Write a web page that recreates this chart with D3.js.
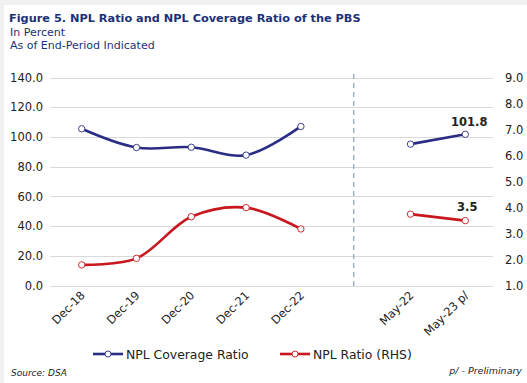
<!DOCTYPE html>
<html><head><meta charset="utf-8">
<script src="https://cdn.jsdelivr.net/npm/d3@7"></script>
<style>body{margin:0;background:#fff}svg{display:block}</style>
</head><body>
<svg id="c" width="527" height="383"></svg>
<script>
const categories = ["Dec-18","Dec-19","Dec-20","Dec-21","Dec-22","","May-22","May-23 p/"];
const coverage = [105.5, 92.9, 93.1, 87.8, 107.1, null, 95.2, 101.8];
const nplRatio = [1.8, 2.05, 3.65, 4.0, 3.18, null, 3.75, 3.5];
const leftTicks = [0,20,40,60,80,100,120,140];
const rightTicks = [1,2,3,4,5,6,7,8,9];

const svg = d3.select("#c");
const font = "'DejaVu Sans', sans-serif";
const navy = "#2a2d83", red = "#c8171e", titleCol = "#1c3278";

svg.append("rect").attr("width",527).attr("height",383).attr("fill","#f1f1f1");
svg.append("rect").attr("x",4).attr("y",5).attr("width",523).attr("height",378).attr("fill","#fff");

svg.append("text").attr("x",9).attr("y",22).attr("font-family",font).attr("font-weight","bold")
  .attr("font-size",11.3).attr("fill",titleCol).text("Figure 5. NPL Ratio and NPL Coverage Ratio of the PBS");
svg.append("text").attr("x",10).attr("y",36).attr("font-family",font).attr("font-size",11)
  .attr("fill",titleCol).text("In Percent");
svg.append("text").attr("x",10).attr("y",49).attr("font-family",font).attr("font-size",11)
  .attr("fill",titleCol).text("As of End-Period Indicated");

const x = d3.scaleBand().domain(categories.map((c,i)=>i)).range([54.3, 492.7]);
const cx = i => x(i) + x.bandwidth()/2;
const yL = d3.scaleLinear().domain([0,140]).range([285.7, 77.5]);
const yR = d3.scaleLinear().domain([1,9]).range([285.7, 77.5]);

// gridlines
svg.append("g").selectAll("line").data(leftTicks).join("line")
  .attr("x1",50).attr("x2",493).attr("y1",d=>Math.round(yL(d))+0.5).attr("y2",d=>Math.round(yL(d))+0.5)
  .attr("stroke","#d9d9d9").attr("stroke-width",1);

// left axis
const axL = svg.append("g").attr("transform","translate(50,0)")
  .call(d3.axisLeft(yL).tickValues(leftTicks).tickFormat(d3.format(".1f")).tickSize(0).tickPadding(7));
axL.select(".domain").remove();
axL.selectAll("text").attr("font-family",font).attr("font-size",11.5).attr("fill","#222");

// right axis
const axR = svg.append("g").attr("transform","translate(498,0)")
  .call(d3.axisRight(yR).tickValues(rightTicks).tickFormat(d3.format(".1f")).tickSize(0).tickPadding(7));
axR.select(".domain").remove();
axR.selectAll("text").attr("font-family",font).attr("font-size",11.5).attr("fill","#222");

// x labels
svg.append("g").selectAll("text").data(categories).join("text")
  .attr("transform",(d,i)=>`translate(${cx(i)+4},${296}) rotate(-45)`)
  .attr("text-anchor","end").attr("font-family",font).attr("font-size",11.5).attr("fill","#222")
  .text(d=>d);

// dashed separator
const sepX = (cx(4)+cx(6))/2 - 2;
svg.append("line").attr("x1",sepX).attr("x2",sepX).attr("y1",74).attr("y2",286)
  .attr("stroke","#8fa9c3").attr("stroke-width",1.3).attr("stroke-dasharray","5,4");

function drawSeries(vals, y, color){
  const segs = [vals.slice(0,5).map((v,i)=>[cx(i), y(v)]), vals.slice(6).map((v,i)=>[cx(i+6), y(v)])];
  const line = d3.line().curve(d3.curveCatmullRom.alpha(0.5));
  svg.append("g").selectAll("path").data(segs).join("path")
    .attr("d",line).attr("fill","none").attr("stroke",color).attr("stroke-width",2.6).attr("stroke-linecap","round");
  svg.append("g").selectAll("circle").data(vals.map((v,i)=>({v,i})).filter(d=>d.v!=null)).join("circle")
    .attr("cx",d=>cx(d.i)).attr("cy",d=>y(d.v)).attr("r",3.2)
    .attr("fill","#fff").attr("stroke",color).attr("stroke-width",0.9);
}
drawSeries(coverage, yL, navy);
drawSeries(nplRatio, yR, red);

// data labels
svg.append("text").attr("x",cx(7)+4).attr("y",yL(coverage[7])-8).attr("text-anchor","middle")
  .attr("font-family",font).attr("font-weight","bold").attr("font-size",11.5).attr("fill","#222").text(coverage[7].toFixed(1));
svg.append("text").attr("x",cx(7)+2).attr("y",yR(nplRatio[7])-10).attr("text-anchor","middle")
  .attr("font-family",font).attr("font-weight","bold").attr("font-size",11.5).attr("fill","#222").text(nplRatio[7].toFixed(1));

// legend
const legend = [{name:"NPL Coverage Ratio", color:navy, x:93},{name:"NPL Ratio (RHS)", color:red, x:280}];
const lg = svg.append("g").selectAll("g").data(legend).join("g").attr("transform",d=>`translate(${d.x},354)`);
lg.append("line").attr("x1",0).attr("x2",30).attr("y1",0).attr("y2",0).attr("stroke",d=>d.color).attr("stroke-width",2.6);
lg.append("circle").attr("cx",15).attr("cy",0).attr("r",3).attr("fill","#fff").attr("stroke",d=>d.color).attr("stroke-width",0.9);
lg.append("text").attr("x",33).attr("y",4.5).attr("font-family",font).attr("font-size",12.4).attr("fill","#222").text(d=>d.name);

svg.append("text").attr("x",11).attr("y",376).attr("font-family",font).attr("font-style","italic")
  .attr("font-size",9).attr("fill","#222").text("Source: DSA");
svg.append("text").attr("x",522).attr("y",374).attr("text-anchor","end").attr("font-family",font).attr("font-style","italic")
  .attr("font-size",9.5).attr("fill","#222").text("p/ - Preliminary");
</script>
</body></html>
